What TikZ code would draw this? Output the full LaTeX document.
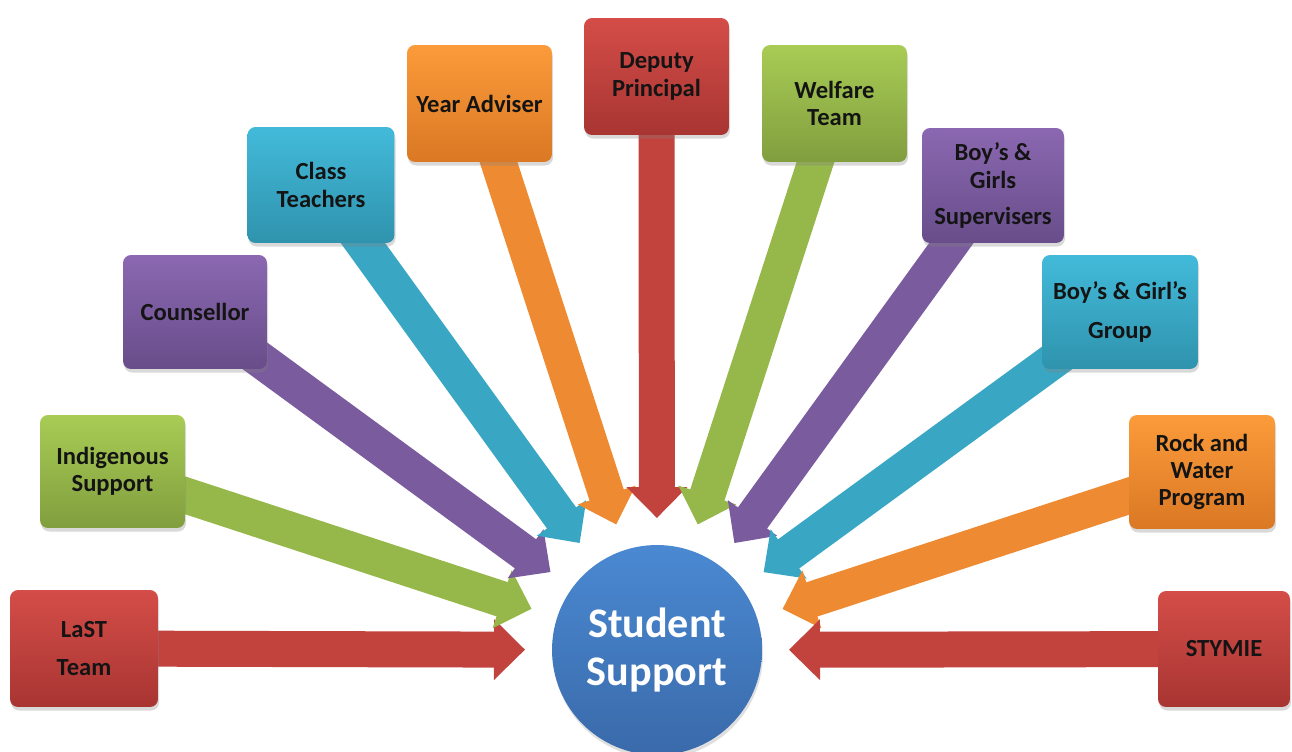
\documentclass[tikz,border=0pt]{standalone}
\usepackage{fontspec}
\setmainfont{Carlito}
\usetikzlibrary{arrows.meta,calc,shadows,backgrounds}
\definecolor{redT}{HTML}{D44D48}
\definecolor{redB}{HTML}{A83532}
\definecolor{redM}{HTML}{C2423E}
\definecolor{grnT}{HTML}{A8CC55}
\definecolor{grnB}{HTML}{819E3E}
\definecolor{grnM}{HTML}{96B84B}
\definecolor{purT}{HTML}{8B68B1}
\definecolor{purB}{HTML}{684D8A}
\definecolor{purM}{HTML}{7A5B9E}
\definecolor{tealT}{HTML}{43BADA}
\definecolor{tealB}{HTML}{2F93AD}
\definecolor{tealM}{HTML}{39A7C4}
\definecolor{orgT}{HTML}{FB9B3A}
\definecolor{orgB}{HTML}{DA7824}
\definecolor{orgM}{HTML}{EE8B32}
\definecolor{bluT}{HTML}{4A89D2}
\definecolor{bluB}{HTML}{3A6AAA}
\tikzset{
  box/.style={rounded corners=0.16cm, align=center, inner sep=2pt,
    font=\fontsize{14}{15.5}\selectfont\bfseries, text=black!92,
    drop shadow={opacity=0.3, shadow xshift=0.6pt, shadow yshift=-2pt}},
  redbox/.style={box, top color=redT, bottom color=redB},
  grnbox/.style={box, top color=grnT, bottom color=grnB},
  purbox/.style={box, top color=purT, bottom color=purB},
  tealbox/.style={box, top color=tealT, bottom color=tealB},
  orgbox/.style={box, top color=orgT, bottom color=orgB},
  fat/.style={line width=0.72cm, line cap=butt, -{Triangle[length=0.62cm,width=1.18cm]}},
  hub/.style={circle, minimum size=4.2cm, inner sep=0pt, top color=bluT, bottom color=bluB,
    text=white, align=center, font=\fontsize{24}{27}\selectfont\bfseries,
    drop shadow={opacity=0.25, shadow xshift=0.6pt, shadow yshift=-2pt}}
}
\begin{document}
\begin{tikzpicture}[x=0.02cm,y=0.02cm]
\useasboundingbox (0,-751) rectangle (1292,0);
% hub
\node[hub] (ss) at (657,-650) {Student\\Support};
% boxes
\node[redbox, minimum width=2.96cm, minimum height=2.34cm] (last) at (84,-648.5) {LaST\\[6pt]Team};
\node[grnbox, minimum width=2.9cm, minimum height=2.26cm] (indig) at (112.5,-471.5) {Indigenous\\Support};
\node[purbox, minimum width=2.88cm, minimum height=2.28cm] (couns) at (195,-312) {Counsellor};
\node[tealbox, minimum width=2.94cm, minimum height=2.32cm] (class) at (321,-185) {Class\\Teachers};
\node[orgbox, minimum width=2.9cm, minimum height=2.34cm] (year) at (479.5,-103.5) {Year Adviser};
\node[redbox, minimum width=2.9cm, minimum height=2.34cm] (deputy) at (656.5,-76.5) {Deputy\\Principal};
\node[grnbox, minimum width=2.9cm, minimum height=2.34cm] (welfare) at (834.5,-103.5) {Welfare\\Team};
\node[purbox, minimum width=2.84cm, minimum height=2.3cm] (superv) at (993,-185.5) {Boy's \&\\Girls\\[5pt]Supervisers};
\node[tealbox, minimum width=3.12cm, minimum height=2.28cm] (group) at (1120,-312) {Boy's \& Girl's\\[7pt]Group};
\node[orgbox, minimum width=2.92cm, minimum height=2.28cm] (rock) at (1202,-472) {Rock and\\Water\\Program};
\node[redbox, minimum width=2.64cm, minimum height=2.32cm] (stymie) at (1224,-649) {STYMIE};
% arrow tips
\foreach \n in {last,indig,couns,class,year,deputy,welfare,superv,group,rock,stymie}
  \coordinate (t-\n) at ($(ss.center)!2.64cm!(\n.center)$);
\begin{scope}[on background layer]
\draw[fat, redM] (last.center) -- (t-last);
\draw[fat, grnM] (indig.center) -- (t-indig);
\draw[fat, purM] (couns.center) -- (t-couns);
\draw[fat, tealM] (class.center) -- (t-class);
\draw[fat, orgM] (year.center) -- (t-year);
\draw[fat, redM] (deputy.center) -- (t-deputy);
\draw[fat, grnM] (welfare.center) -- (t-welfare);
\draw[fat, purM] (superv.center) -- (t-superv);
\draw[fat, tealM] (group.center) -- (t-group);
\draw[fat, orgM] (rock.center) -- (t-rock);
\draw[fat, redM] (stymie.center) -- (t-stymie);
\end{scope}
\end{tikzpicture}
\end{document}
